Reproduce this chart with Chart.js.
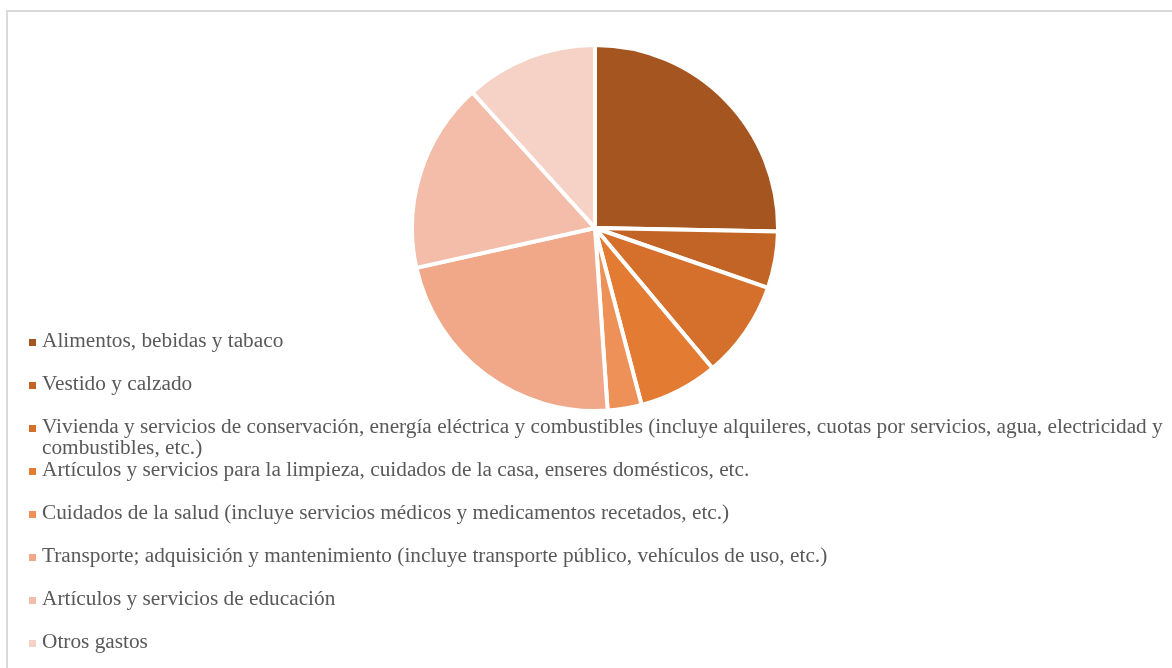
<!DOCTYPE html>
<html lang="es">
<head>
<meta charset="utf-8">
<title>Distribución del gasto</title>
<script src="https://cdn.jsdelivr.net/npm/chart.js@4/dist/chart.umd.min.js"></script>
<style>
  html, body { margin: 0; padding: 0; width: 1172px; height: 668px; overflow: hidden; background: #fff; }
  #frame { position: absolute; left: 6px; top: 10px; width: 1200px; height: 700px; border: 2px solid #d9d9d9; box-sizing: border-box; }
  #pieBox { position: absolute; left: 410px; top: 43px; width: 370px; height: 370px; }
  #legend { position: absolute; left: 0; top: 0; width: 1172px; height: 668px; pointer-events: none; }
  .item { position: absolute; left: 42px; width: 1128px; font-family: "Liberation Serif", "Times New Roman", serif; font-size: 21.3px; line-height: 21px; color: #595959; white-space: normal; }
  .mark { position: absolute; left: 29px; width: 7px; height: 7px; }
</style>
</head>
<body>
<div id="frame"></div>
<div id="pieBox"><canvas id="pie" width="370" height="370"></canvas></div>
<div id="legend"></div>
<script>
// Gasto de los hogares por rubro (porcentaje del total)
const categories = [
  "Alimentos, bebidas y tabaco",
  "Vestido y calzado",
  "Vivienda y servicios de conservación, energía eléctrica y combustibles (incluye alquileres, cuotas por servicios, agua, electricidad y combustibles, etc.)",
  "Artículos y servicios para la limpieza, cuidados de la casa, enseres domésticos, etc.",
  "Cuidados de la salud (incluye servicios médicos y medicamentos recetados, etc.)",
  "Transporte; adquisición y mantenimiento (incluye transporte público, vehículos de uso, etc.)",
  "Artículos y servicios de educación",
  "Otros gastos"
];
const shares = [25.3, 5.0, 8.6, 7.0, 3.0, 22.6, 16.8, 11.7];
const sliceColors = ["#a5551f", "#c26426", "#d4702c", "#e37b33", "#ed9159", "#f0a888", "#f3bda9", "#f6d2c6"];

const chart = new Chart(document.getElementById("pie"), {
  type: "pie",
  data: {
    labels: categories,
    datasets: [{
      data: shares,
      backgroundColor: sliceColors,
      borderColor: "#ffffff",
      borderWidth: 4
    }]
  },
  options: {
    responsive: false,
    animation: false,
    layout: { padding: 0 },
    plugins: {
      legend: { display: false },
      tooltip: { enabled: false }
    }
  }
});

// Legend rows: one every 43px, baseline-anchored
const legendEl = document.getElementById("legend");
const firstBaseline = 348;
const rowStep = 43;
chart.data.labels.forEach((label, i) => {
  const baseline = firstBaseline + i * rowStep;
  const mark = document.createElement("div");
  mark.className = "mark";
  mark.style.top = (baseline - 9) + "px";
  mark.style.background = chart.data.datasets[0].backgroundColor[i];
  legendEl.appendChild(mark);
  const txt = document.createElement("div");
  txt.className = "item";
  txt.style.top = (baseline - 17.7) + "px";
  txt.textContent = label;
  legendEl.appendChild(txt);
});
</script>
</body>
</html>
